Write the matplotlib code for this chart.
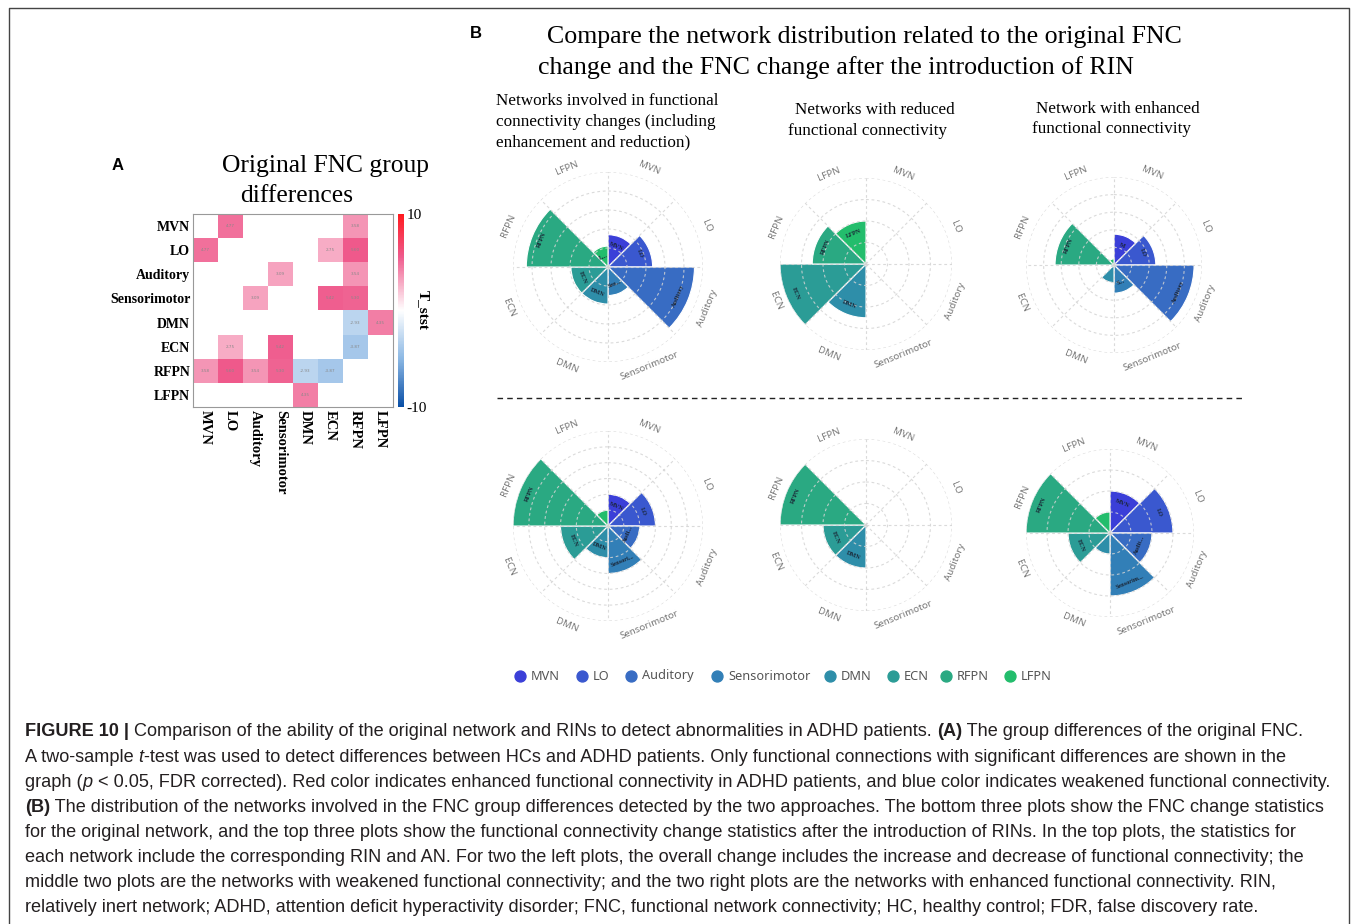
import numpy as np
import matplotlib
matplotlib.use("Agg")
import matplotlib.pyplot as plt
from matplotlib.colors import LinearSegmentedColormap

W, H = 1358, 924

networks = ['MVN', 'LO', 'Auditory', 'Sensorimotor', 'DMN', 'ECN', 'RFPN', 'LFPN']
net_colors = ['#3b3fd8', '#3a58cf', '#386cc3', '#327fb7', '#2e8ea9', '#2b9c96', '#2aa982', '#23bd6c']

# group differences (t values), upper triangle of the symmetric matrix
t_edges = [
    ('MVN', 'LO', 4.77), ('MVN', 'RFPN', 3.58),
    ('LO', 'ECN', 2.75), ('LO', 'RFPN', 5.60),
    ('Auditory', 'Sensorimotor', 3.09), ('Auditory', 'RFPN', 3.54),
    ('Sensorimotor', 'ECN', 5.42), ('Sensorimotor', 'RFPN', 5.30),
    ('DMN', 'RFPN', -2.93), ('DMN', 'LFPN', 4.35),
    ('ECN', 'RFPN', -3.87),
]

# rose chart values, order = networks
top_all = [3.4, 4.7, 9.1, 3.0, 3.9, 3.9, 8.6, 2.2]
top_reduced = [0, 0, 0, 0, 2.5, 4.0, 2.5, 2.0]
top_enhanced = [3.5, 4.75, 9.1, 3.2, 2.0, 0.4, 6.7, 0.7]
bottom_all = [2, 3, 2, 3, 2, 3, 6, 1]
bottom_reduced = [0, 0, 0, 0, 1, 1, 2, 0]
bottom_enhanced = [2, 3, 2, 3, 1, 2, 4, 1]

top_all_lbl = ['MVN', 'LO', 'Auditory', 'Sen...', 'DMN', 'ECN', 'RFPN', 'L...']
top_reduced_lbl = ['', '', '', '', 'DMN', 'ECN', 'RFPN', 'LFPN']
top_enhanced_lbl = ['M', 'LO', 'Auditory', 'S...', '', '', 'RFPN', '']
bottom_all_lbl = ['MVN', 'LO', 'Audi...', 'Sensori...', 'DMN', 'ECN', 'RFPN', '']
bottom_reduced_lbl = ['', '', '', '', 'DMN', 'ECN', 'RFPN', '']
bottom_enhanced_lbl = ['MVN', 'LO', 'Audit...', 'Sensorim...', '', 'ECN', 'RFPN', '']

caption = [
    [("FIGURE 10 |", 'b'), (" Comparison of the ability of the original network and RINs to detect abnormalities in ADHD patients. ", 'n'),
     ("(A)", 'b'), (" The group differences of the original FNC.", 'n')],
    [("A two-sample ", 'n'), ("t", 'i'), ("-test was used to detect differences between HCs and ADHD patients. Only functional connections with significant differences are shown in the", 'n')],
    [("graph (", 'n'), ("p", 'i'), (" < 0.05, FDR corrected). Red color indicates enhanced functional connectivity in ADHD patients, and blue color indicates weakened functional connectivity.", 'n')],
    [("(B)", 'b'), (" The distribution of the networks involved in the FNC group differences detected by the two approaches. The bottom three plots show the FNC change statistics", 'n')],
    [("for the original network, and the top three plots show the functional connectivity change statistics after the introduction of RINs. In the top plots, the statistics for", 'n')],
    [("each network include the corresponding RIN and AN. For two the left plots, the overall change includes the increase and decrease of functional connectivity; the", 'n')],
    [("middle two plots are the networks with weakened functional connectivity; and the two right plots are the networks with enhanced functional connectivity. RIN,", 'n')],
    [("relatively inert network; ADHD, attention deficit hyperactivity disorder; FNC, functional network connectivity; HC, healthy control; FDR, false discovery rate.", 'n')],
]


def fx(x):
    return x / W


def fy(y):
    return 1 - y / H


fig = plt.figure(figsize=(W / 100, H / 100), dpi=100)
fig.patch.set_facecolor('white')

ov = fig.add_axes([0, 0, 1, 1], zorder=0)
ov.set_xlim(0, W)
ov.set_ylim(H, 0)
ov.axis('off')

# outer frame (bottom edge is cut off in the page)
ov.plot([9, 9, 1349, 1349], [H, 8, 8, H], color='#444444', lw=1.0)

serif = 'Liberation Serif'
sans = 'Liberation Sans'

# ---------------- panel A : heatmap ----------------
ov.text(118, 165, 'A', fontsize=12, fontweight='bold', family=sans, ha='center', va='center')
ov.text(326, 166, 'Original FNC group', fontsize=18.4, family=serif, ha='center', va='center')
ov.text(297, 196, 'differences', fontsize=18.4, family=serif, ha='center', va='center')

n = len(networks)
mat = np.full((n, n), np.nan)
for a, b, v in t_edges:
    i, j = networks.index(a), networks.index(b)
    mat[i, j] = v
    mat[j, i] = v

cmap = LinearSegmentedColormap.from_list('tstat', [(0, '#0a4fa6'), (0.25, '#8cb8e4'), (0.5, '#ffffff'),
                                                   (0.78, '#ef5a8c'), (1, '#ff1a1f')])
axh = fig.add_axes([fx(193), fy(407), fx(200), 193 / H])
im = axh.imshow(np.ma.masked_invalid(mat), cmap=cmap, vmin=-10, vmax=10, aspect='auto')
for i in range(n):
    for j in range(n):
        if not np.isnan(mat[i, j]):
            axh.text(j, i, '%.2f' % mat[i, j], fontsize=3, color='#888888', ha='center', va='center')
axh.set_xticks(range(n))
axh.set_yticks(range(n))
axh.set_xticklabels(networks, rotation=-90, family=serif, fontweight='bold', fontsize=10.5)
axh.set_yticklabels(networks, family=serif, fontweight='bold', fontsize=10)
axh.tick_params(length=0, pad=2)
for s in axh.spines.values():
    s.set_color('#999999')
    s.set_linewidth(0.8)

cax = fig.add_axes([fx(398), fy(407), fx(6), 193 / H])
cb = fig.colorbar(im, cax=cax, ticks=[-10, 10])
cb.outline.set_visible(False)
cax.tick_params(length=0, pad=2)
cax.set_yticklabels(['-10', '10'], family=serif, fontsize=11)
cax.text(4.2, 0.5, 'T_stst', transform=cax.transAxes, rotation=-90, family=serif, fontweight='bold',
         fontsize=11, ha='center', va='center')

# ---------------- panel B : rose charts ----------------
ov.text(476, 34, 'B', fontsize=12, fontweight='bold', family=sans, ha='center', va='center')
ov.text(547, 37, 'Compare the network distribution related to the original FNC', fontsize=18.6, family=serif,
        ha='left', va='center')
ov.text(538, 68, 'change and the FNC change after the introduction of RIN', fontsize=18.6, family=serif,
        ha='left', va='center')

sub_lines = [
    (496, 101, 'Networks involved in functional', 'left'),
    (496, 122, 'connectivity changes (including', 'left'),
    (496, 142, 'enhancement and reduction)', 'left'),
    (875, 110, 'Networks with reduced', 'center'),
    (868, 131, 'functional connectivity', 'center'),
    (1118, 109, 'Network with enhanced', 'center'),
    (1111, 129, 'functional connectivity', 'center'),
]
for x, y, s, ha in sub_lines:
    ov.text(x, y, s, fontsize=12.3, family=serif, ha=ha, va='center')

ov.plot([497, 1245], [398, 398], color='#222222', lw=1.0, ls=(0, (4, 3)))

panels = [
    (608, 267, 95, top_all, top_all_lbl, 10, 5),
    (866, 264, 86, top_reduced, top_reduced_lbl, 4, 4),
    (1114, 265, 88, top_enhanced, top_enhanced_lbl, 10, 5),
    (608, 526, 95, bottom_all, bottom_all_lbl, 6, 6),
    (866, 525, 86, bottom_reduced, bottom_reduced_lbl, 2, 4),
    (1110, 533, 84, bottom_enhanced, bottom_enhanced_lbl, 4, 4),
]

step = 2 * np.pi / n
theta = np.arange(n) * step + step / 2
deg = np.degrees(theta)


def tangential(d):
    d = d % 360
    if 90 < d < 270:
        return 180 - d
    return -d


for cx, cy, R, vals, lbls, rmax, nring in panels:
    ax = fig.add_axes([fx(cx - R), fy(cy + R), fx(2 * R), 2 * R / H], projection='polar', zorder=2)
    ax.set_theta_zero_location('N')
    ax.set_theta_direction(-1)
    ax.set_ylim(0, rmax)
    ax.axis('off')
    ax.bar(theta, vals, width=step, color=net_colors, edgecolor='white', linewidth=0.8, zorder=2)
    tt = np.linspace(0, 2 * np.pi, 300)
    for k in range(1, nring + 1):
        ax.plot(tt, np.full_like(tt, rmax * k / nring), color='#d4d4d4', lw=0.8, ls=(0, (2.5, 2.5)),
                zorder=3, alpha=0.85)
    for k in range(n):
        ax.plot([k * step, k * step], [0, rmax], color='#d4d4d4', lw=0.8, ls=(0, (2.5, 2.5)), zorder=3,
                alpha=0.85)
    for k in range(n):
        ax.text(theta[k], rmax * 1.13, networks[k], rotation=tangential(deg[k]), rotation_mode='anchor',
                ha='center', va='center', fontsize=7, color='#777777', family='Noto Sans')
        if lbls[k] and vals[k] > 0:
            rl = vals[k] - rmax * 10.0 / R
            ax.text(theta[k], max(rl, vals[k] * 0.5), lbls[k], rotation=tangential(deg[k]),
                    rotation_mode='anchor', ha='center', va='center', fontsize=4.5, color='#1a2535',
                    family=serif, fontweight='bold', zorder=4)

# legend
leg_x = [520, 582, 631, 717, 830, 893, 946, 1010]
for k in range(n):
    ov.scatter(leg_x[k], 676, s=62, color=net_colors[k], zorder=3)
    ov.text(leg_x[k] + 11, 676, networks[k], fontsize=9.2, color='#555555', family='Noto Sans', ha='left',
            va='center')

# caption
fig.canvas.draw()
renderer = fig.canvas.get_renderer()
styles = {'n': dict(), 'b': dict(fontweight='bold'), 'i': dict(fontstyle='italic')}
cap_y0, cap_dy = 732, 25.1
for li, segs in enumerate(caption):
    x = 25
    y = cap_y0 + li * cap_dy
    for txt, st in segs:
        t = ov.text(x, y, txt, fontsize=13.1, family=sans, color='#231f20', ha='left', va='center',
                    **styles[st])
        bb = t.get_window_extent(renderer=renderer)
        x += bb.width

fig.savefig('out.png', dpi=100, facecolor='white')
